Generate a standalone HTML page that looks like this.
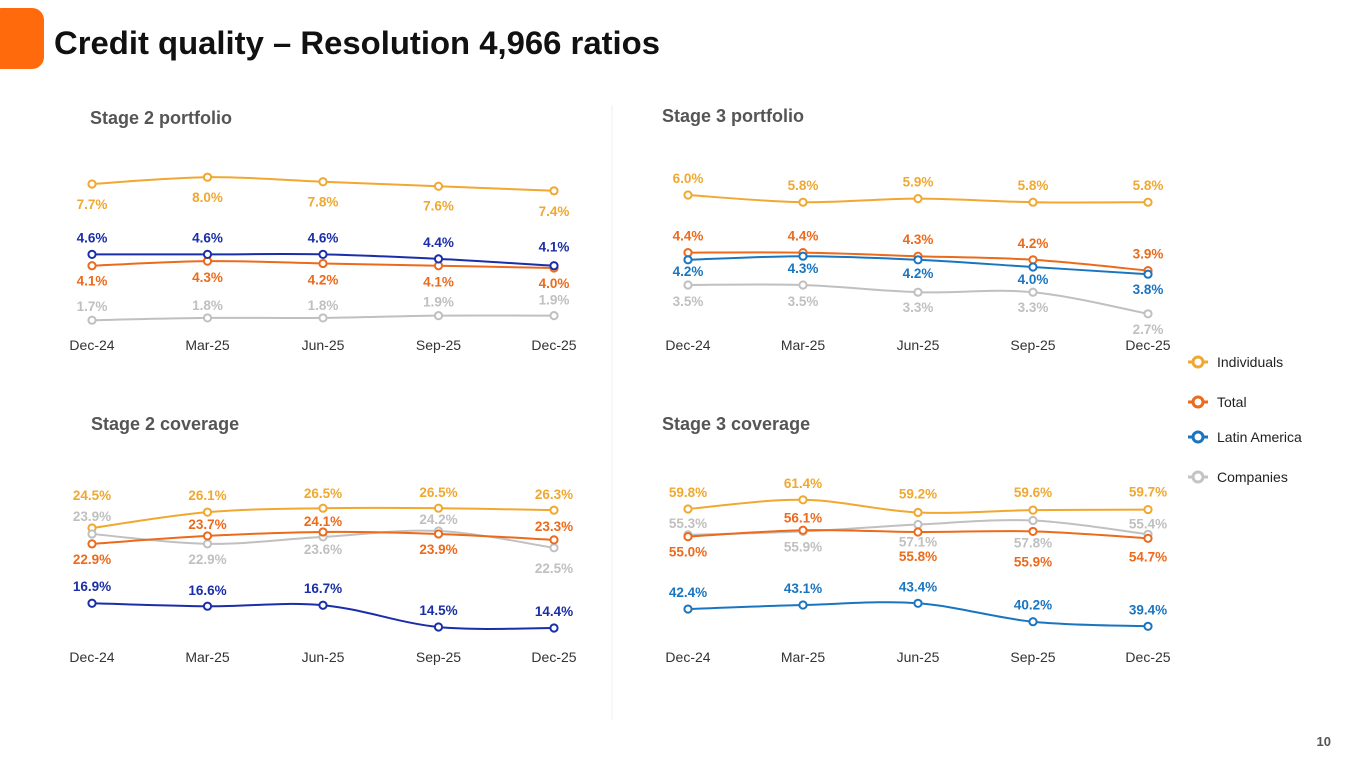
<!DOCTYPE html>
<html><head><meta charset="utf-8">
<style>
html,body{margin:0;padding:0;background:#fff;}
body{width:1365px;height:768px;overflow:hidden;position:relative;font-family:"Liberation Sans",sans-serif;}
svg{position:absolute;left:0;top:0;}
</style></head>
<body>
<svg id="chart" width="1365" height="768">
  <rect x="-10" y="8" width="54" height="61" rx="12" fill="#ff6a0d"/>
  <text x="54" y="54" font-size="32" font-weight="bold" fill="#111" textLength="606" lengthAdjust="spacingAndGlyphs">Credit quality – Resolution 4,966 ratios</text>
  <line x1="612" y1="105" x2="612" y2="720" stroke="#efefef" stroke-width="1"/>
  <text x="90" y="124" font-size="18" font-weight="bold" fill="#555">Stage 2 portfolio</text>
  <text x="662" y="122" font-size="18" font-weight="bold" fill="#555">Stage 3 portfolio</text>
  <text x="91" y="430" font-size="18" font-weight="bold" fill="#555">Stage 2 coverage</text>
  <text x="662" y="430" font-size="18" font-weight="bold" fill="#555">Stage 3 coverage</text>
  <g>
    <g><line x1="1188" y1="362" x2="1208" y2="362" stroke="#f0a830" stroke-width="3"/><circle cx="1198" cy="362" r="5" fill="#fff" stroke="#f0a830" stroke-width="3"/><text x="1217" y="367" font-size="14" fill="#222">Individuals</text></g>
    <g><line x1="1188" y1="402" x2="1208" y2="402" stroke="#ec6a1c" stroke-width="3"/><circle cx="1198" cy="402" r="5" fill="#fff" stroke="#ec6a1c" stroke-width="3"/><text x="1217" y="407" font-size="14" fill="#222">Total</text></g>
    <g><line x1="1188" y1="437" x2="1208" y2="437" stroke="#1a75c0" stroke-width="3"/><circle cx="1198" cy="437" r="5" fill="#fff" stroke="#1a75c0" stroke-width="3"/><text x="1217" y="442" font-size="14" fill="#222">Latin America</text></g>
    <g><line x1="1188" y1="477" x2="1208" y2="477" stroke="#c4c4c4" stroke-width="3"/><circle cx="1198" cy="477" r="5" fill="#fff" stroke="#c4c4c4" stroke-width="3"/><text x="1217" y="482" font-size="14" fill="#222">Companies</text></g>
  </g>
  <text x="1331" y="746" font-size="13" font-weight="bold" fill="#555" text-anchor="end">10</text>
</svg>
<script>
const categories = ["Dec-24","Mar-25","Jun-25","Sep-25","Dec-25"];
// Stage 2 portfolio
const s2pInd = [7.7, 8.0, 7.8, 7.6, 7.4];
const s2pLat = [4.6, 4.6, 4.6, 4.4, 4.1];
const s2pTot = [4.1, 4.3, 4.2, 4.1, 4.0];
const s2pCom = [1.7, 1.8, 1.8, 1.9, 1.9];
// Stage 3 portfolio
const s3pInd = [6.0, 5.8, 5.9, 5.8, 5.8];
const s3pTot = [4.4, 4.4, 4.3, 4.2, 3.9];
const s3pLat = [4.2, 4.3, 4.2, 4.0, 3.8];
const s3pCom = [3.5, 3.5, 3.3, 3.3, 2.7];
// Stage 2 coverage
const s2cInd = [24.5, 26.1, 26.5, 26.5, 26.3];
const s2cCom = [23.9, 22.9, 23.6, 24.2, 22.5];
const s2cTot = [22.9, 23.7, 24.1, 23.9, 23.3];
const s2cLat = [16.9, 16.6, 16.7, 14.5, 14.4];
// Stage 3 coverage
const s3cInd = [59.8, 61.4, 59.2, 59.6, 59.7];
const s3cTot = [55.0, 56.1, 55.8, 55.9, 54.7];
const s3cCom = [55.3, 55.9, 57.1, 57.8, 55.4];
const s3cLat = [42.4, 43.1, 43.4, 40.2, 39.4];

const NS = "http://www.w3.org/2000/svg";
const svg = document.getElementById("chart");
const C = {ind:"#f0a830", tot:"#ec6a1c", lat:"#1a75c0", latDark:"#1a2ea8", com:"#c0c0c0"};

function mk(tag, attrs){ const e=document.createElementNS(NS,tag); for(const k in attrs) e.setAttribute(k,attrs[k]); return e; }

function smoothPath(pts){
  let d="M"+pts[0][0]+","+pts[0][1];
  for(let i=0;i<pts.length-1;i++){
    const p0=pts[Math.max(0,i-1)], p1=pts[i], p2=pts[i+1], p3=pts[Math.min(pts.length-1,i+2)];
    const t=0.17;
    const c1x=p1[0]+(p2[0]-p0[0])*t, c1y=p1[1]+(p2[1]-p0[1])*t;
    const c2x=p2[0]-(p3[0]-p1[0])*t, c2y=p2[1]-(p3[1]-p1[1])*t;
    d+=" C"+c1x+","+c1y+" "+c2x+","+c2y+" "+p2[0]+","+p2[1];
  }
  return d;
}

function panel(name, x0, x1, yTop, vTop, perUnit, catY, series){
  const g = mk("g",{});
  
  
  svg.appendChild(g);
  const xs = i => x0 + (x1-x0)*i/(categories.length-1);
  const ys = v => yTop + (vTop - v)*perUnit;
  categories.forEach((c,i)=>{
    const t = mk("text",{x:xs(i), y:catY, "font-size":14, fill:"#333", "text-anchor":"middle"});
    
    
    t.textContent=c; g.appendChild(t);
  });
  series.forEach(s=>{
    const sg = mk("g",{});
    
    
    g.appendChild(sg);
    const pts = s.vals.map((v,i)=>[xs(i), ys(v)]);
    const p = mk("path",{d:smoothPath(pts), fill:"none", stroke:s.color, "stroke-width":2});
    
    
    sg.appendChild(p);
    pts.forEach((pt,i)=>{
      const c = mk("circle",{cx:pt[0], cy:pt[1], r:3.6, fill:"#fff", stroke:s.color, "stroke-width":2});
      
      
      sg.appendChild(c);
      const dy = s.dy[i];
      const t = mk("text",{x:pt[0], y:pt[1]+dy+5, "font-size":13.5, "font-weight":"bold", fill:s.color, "text-anchor":"middle"});
      
      
      t.textContent = s.vals[i].toFixed(1)+"%";
      sg.appendChild(t);
    });
  });
}

panel("stage2-portfolio-chart", 92, 554, 184, 7.7, 22.7, 350, [
  {key:"individuals", vals:s2pInd, color:C.ind, dy:[20,20,20,19,20]},
  {key:"companies", vals:s2pCom, color:C.com, dy:[-14,-13,-13,-14,-16]},
  {key:"total", vals:s2pTot, color:C.tot, dy:[15,16,16,16,15]},
  {key:"latin-america", vals:s2pLat, color:C.latDark, dy:[-17,-17,-17,-17,-19]}
]);
panel("stage3-portfolio-chart", 688, 1148, 195, 6.0, 36, 350, [
  {key:"individuals", vals:s3pInd, color:C.ind, dy:[-17,-17,-17,-17,-17]},
  {key:"companies", vals:s3pCom, color:C.com, dy:[16,16,15,15,15]},
  {key:"total", vals:s3pTot, color:C.tot, dy:[-17,-17,-17,-17,-17]},
  {key:"latin-america", vals:s3pLat, color:C.lat, dy:[11,12,13,12,15]}
]);
panel("stage2-coverage-chart", 92, 554, 528, 24.5, 9.9, 662, [
  {key:"individuals", vals:s2cInd, color:C.ind, dy:[-33,-17,-15,-16,-16]},
  {key:"companies", vals:s2cCom, color:C.com, dy:[-18,15,12,-12,20]},
  {key:"total", vals:s2cTot, color:C.tot, dy:[15,-12,-11,15,-14]},
  {key:"latin-america", vals:s2cLat, color:C.latDark, dy:[-17,-16,-17,-17,-17]}
]);
panel("stage3-coverage-chart", 688, 1148, 509, 59.8, 5.75, 662, [
  {key:"individuals", vals:s3cInd, color:C.ind, dy:[-17,-17,-19,-18,-18]},
  {key:"companies", vals:s3cCom, color:C.com, dy:[-12,15,17,22,-11]},
  {key:"total", vals:s3cTot, color:C.tot, dy:[15,-13,24,30,18]},
  {key:"latin-america", vals:s3cLat, color:C.lat, dy:[-17,-17,-17,-17,-17]}
]);
</script>
</body></html>
